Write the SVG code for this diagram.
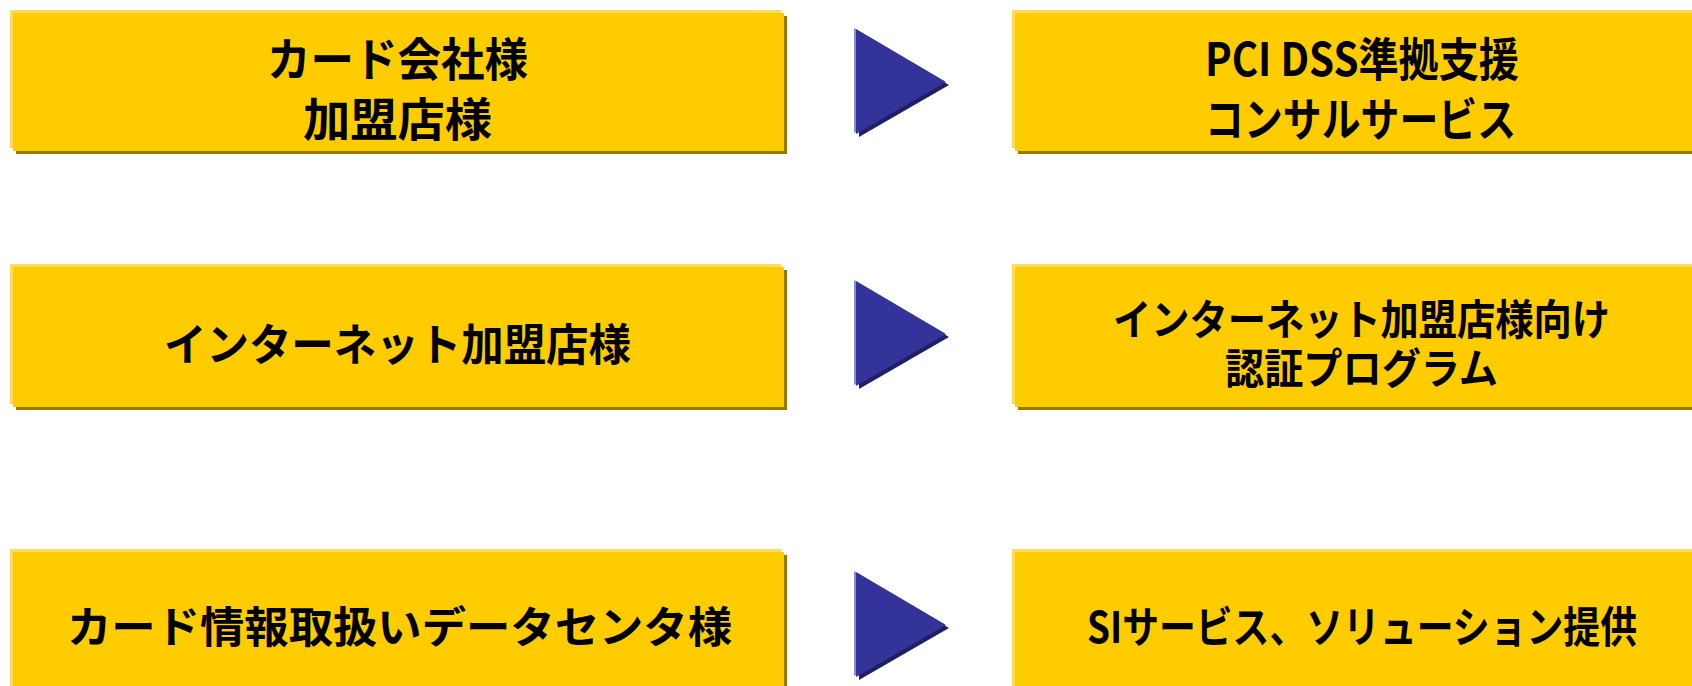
<svg xmlns="http://www.w3.org/2000/svg" width="1692" height="686" viewBox="0 0 1692 686">
<style>
.lt{fill:#FFDB5A}
.fl{fill:#FFCC00}
.sh{fill:#997700}
.ah{fill:#8C8CC6}
.am{fill:#333399}
.as{fill:#1F1F66}
text{font-family:"Noto Sans CJK JP","Noto Sans",sans-serif;font-weight:700;fill:#000;dominant-baseline:central}
</style>
<rect width="1692" height="686" fill="#FFFFFF"/>
<g id="node-card-company">
<rect class="sh" x="16" y="16" width="771" height="138"/>
<rect class="lt" x="10" y="10" width="771" height="138"/>
<rect class="fl" x="13" y="13" width="771" height="138"/>
<text x="267" y="56" font-size="46" textLength="261" lengthAdjust="spacingAndGlyphs">カード会社様</text>
<text x="303" y="116" font-size="46" textLength="189" lengthAdjust="spacingAndGlyphs">加盟店様</text>
</g>
<g id="node-pci-dss">
<rect class="sh" x="1018" y="16" width="700" height="138"/>
<rect class="lt" x="1012" y="10" width="700" height="138"/>
<rect class="fl" x="1015" y="13" width="700" height="138"/>
<text x="1205" y="56" font-size="46" textLength="314" lengthAdjust="spacingAndGlyphs">PCI DSS準拠支援</text>
<text x="1205" y="116" font-size="46" textLength="311" lengthAdjust="spacingAndGlyphs">コンサルサービス</text>
</g>
<g id="node-internet-merchant">
<rect class="sh" x="16" y="270" width="771" height="140"/>
<rect class="lt" x="10" y="264" width="771" height="140"/>
<rect class="fl" x="13" y="267" width="771" height="140"/>
<text x="164" y="342" font-size="44" textLength="467" lengthAdjust="spacingAndGlyphs">インターネット加盟店様</text>
</g>
<g id="node-auth-program">
<rect class="sh" x="1018" y="270" width="700" height="140"/>
<rect class="lt" x="1012" y="264" width="700" height="140"/>
<rect class="fl" x="1015" y="267" width="700" height="140"/>
<text x="1113" y="316" font-size="42" textLength="497" lengthAdjust="spacingAndGlyphs">インターネット加盟店様向け</text>
<text x="1225" y="365" font-size="42" textLength="273" lengthAdjust="spacingAndGlyphs">認証プログラム</text>
</g>
<g id="node-datacenter">
<rect class="sh" x="16" y="555" width="771" height="160"/>
<rect class="lt" x="10" y="549" width="771" height="160"/>
<rect class="fl" x="13" y="552" width="771" height="160"/>
<text x="67" y="624" font-size="43" textLength="665" lengthAdjust="spacingAndGlyphs">カード情報取扱いデータセンタ様</text>
</g>
<g id="node-si-service">
<rect class="sh" x="1018" y="555" width="700" height="160"/>
<rect class="lt" x="1012" y="549" width="700" height="160"/>
<rect class="fl" x="1015" y="552" width="700" height="160"/>
<text x="1087" y="624" font-size="43" textLength="550" lengthAdjust="spacingAndGlyphs">SIサービス、ソリューション提供</text>
</g>
<g id="connectors">
<g id="arrow-1">
<polygon class="as" points="859,32 859,137 949,85"/>
<polygon class="ah" points="854,28 854,133 944,81"/>
<polygon class="am" points="856,29 856,134 946,82"/>
</g>
<g id="arrow-2">
<polygon class="as" points="859,284 859,389 949,337"/>
<polygon class="ah" points="854,280 854,385 944,333"/>
<polygon class="am" points="856,281 856,386 946,334"/>
</g>
<g id="arrow-3">
<polygon class="as" points="859,575 859,680 949,628"/>
<polygon class="ah" points="854,571 854,676 944,624"/>
<polygon class="am" points="856,572 856,677 946,625"/>
</g>
</g>
</svg>
